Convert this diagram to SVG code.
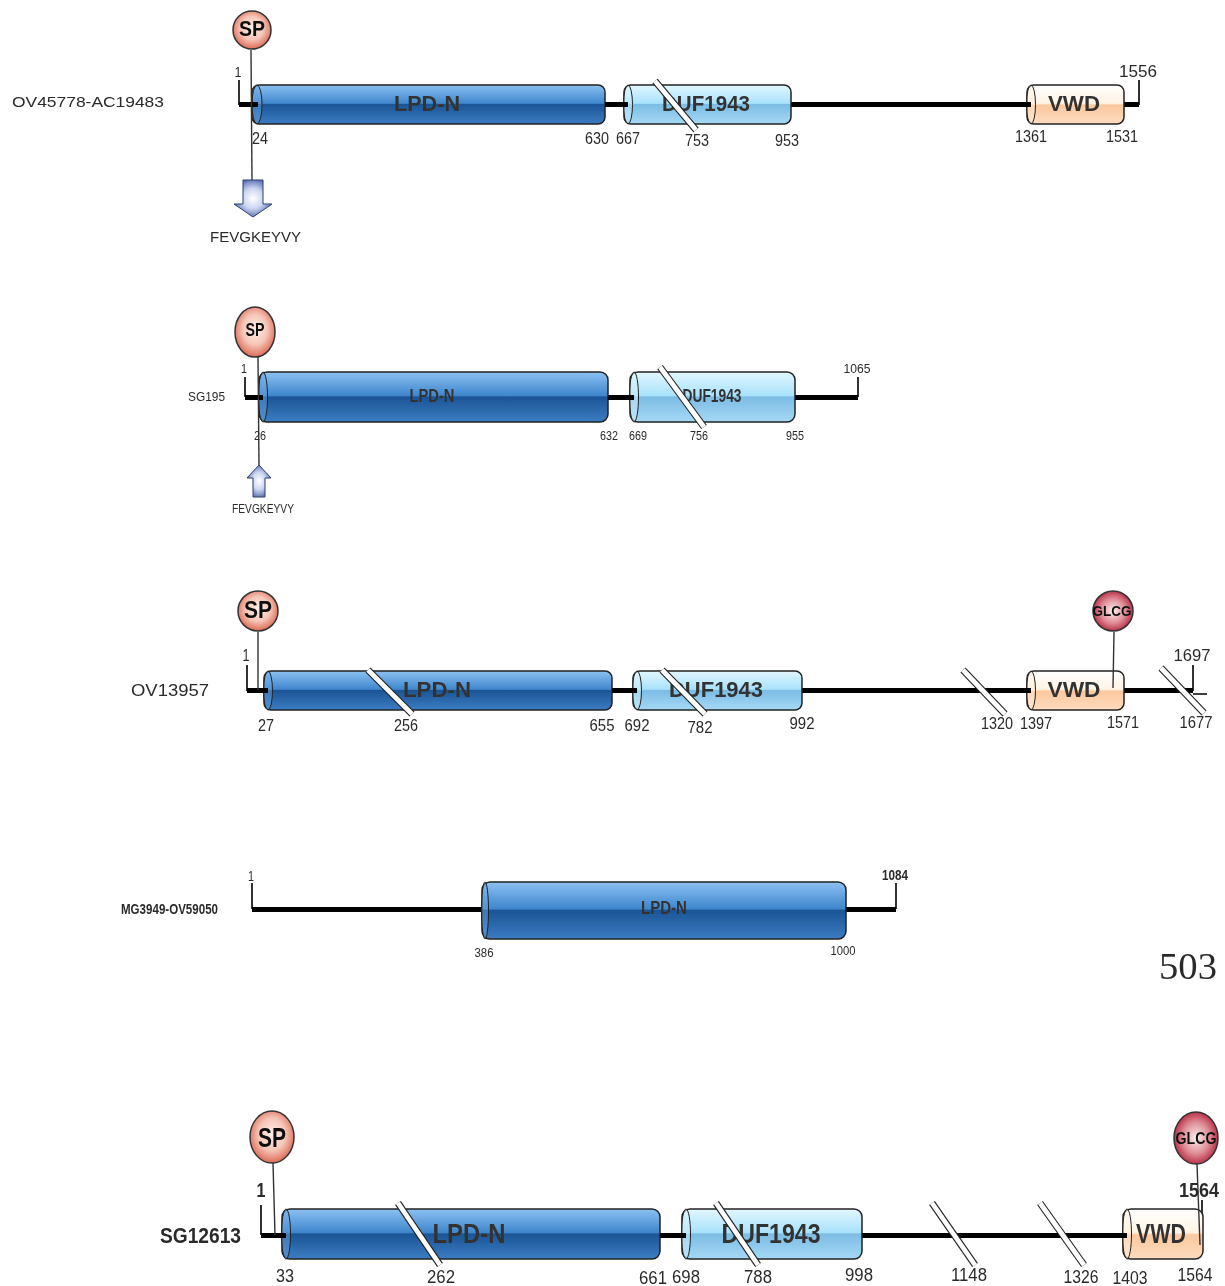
<svg xmlns="http://www.w3.org/2000/svg" width="1225" height="1286" viewBox="0 0 1225 1286">
<style>
text{font-family:"Liberation Sans",Arial,sans-serif;fill:#2b2b2b}
.bb{stroke:#000;stroke-width:5;fill:none}
.tk{stroke:#000;stroke-width:1.6;fill:none}
.st{stroke:#333;stroke-width:1.4;fill:none}
.brk{stroke:#222;stroke-width:7;fill:none}
.brw{stroke:#fff;stroke-width:4.8;fill:none}
.cyl{stroke:#222;stroke-width:1.5}
.cap{stroke:#222;stroke-width:1;fill-opacity:.45}
.blue{fill:url(#gBlue)}.cyan{fill:url(#gCyan)}.peach{fill:url(#gPeach)}
.capb{fill:#6ba7e4}.capc{fill:#d8f3ff}.capp{fill:#fff0dc}
.sp{fill:url(#gSp);stroke:#333;stroke-width:1.5}
.gl{fill:url(#gGl);stroke:#333;stroke-width:1.5}
.arr{fill:url(#gArr);stroke:#2f3f6a;stroke-width:1}
.dom{font-weight:bold;text-anchor:middle;fill:#333}
.bd{font-weight:bold;text-anchor:middle;fill:#111}
.n{text-anchor:middle}
</style>
<defs>
<filter id="soft" x="-2%" y="-2%" width="104%" height="104%"><feGaussianBlur stdDeviation="0.45"/></filter>
<linearGradient id="gBlue" x1="0" y1="0" x2="0" y2="1"><stop offset="0" stop-color="#8cc1f2"/><stop offset=".47" stop-color="#3f86cd"/><stop offset=".5" stop-color="#1b5596"/><stop offset="1" stop-color="#3c7cc2"/></linearGradient>
<linearGradient id="gCyan" x1="0" y1="0" x2="0" y2="1"><stop offset="0" stop-color="#e2f7ff"/><stop offset=".47" stop-color="#a9e2fb"/><stop offset=".5" stop-color="#7dbce4"/><stop offset="1" stop-color="#a4d9f5"/></linearGradient>
<linearGradient id="gPeach" x1="0" y1="0" x2="0" y2="1"><stop offset="0" stop-color="#ffffff"/><stop offset=".47" stop-color="#fff3e4"/><stop offset=".52" stop-color="#fcc89e"/><stop offset="1" stop-color="#fddcc0"/></linearGradient>
<radialGradient id="gSp" cx=".5" cy=".45" r=".55"><stop offset="0" stop-color="#fdf0ea"/><stop offset=".55" stop-color="#f6c6b8"/><stop offset="1" stop-color="#dc6a56"/></radialGradient>
<radialGradient id="gGl" cx=".5" cy=".5" r=".55"><stop offset="0" stop-color="#fbf0f0"/><stop offset=".55" stop-color="#de8d96"/><stop offset="1" stop-color="#b01c36"/></radialGradient>
<radialGradient id="gArr" cx=".5" cy=".5" r=".55"><stop offset="0" stop-color="#ffffff"/><stop offset=".5" stop-color="#cbd5f0"/><stop offset="1" stop-color="#4f66b0"/></radialGradient>
</defs>
<g filter="url(#soft)">
<g id="connectors">
<path class="bb" d="M239 104.500H1139"/><path class="tk" d="M239 80V105M1139 80V105"/>
<path class="bb" d="M245 397.500H858"/><path class="tk" d="M245 377V397M858 377V397"/>
<path class="bb" d="M247 690.500H1193"/><path class="tk" d="M247 665V691M1193 665V691M1193 694H1207"/>
<path class="bb" d="M252 909.500H896"/><path class="tk" d="M252 883V909M896 883V909"/>
<path class="bb" d="M261 1235.500H1125"/><path class="tk" d="M261 1205V1235M1202 1200V1235"/>
</g>
<g id="row1-domains">
<g id="r1-lpd"><rect class="cyl blue" x="252" y="85" width="353" height="39" rx="7"/><ellipse class="cap capb" cx="257" cy="104.500" rx="5" ry="19.500"/><text class="dom" x="427" y="110.500" font-size="22" textLength="66" lengthAdjust="spacingAndGlyphs">LPD-N</text></g>
<g id="r1-duf"><rect class="cyl cyan" x="624" y="85" width="167" height="39" rx="7"/><ellipse class="cap capc" cx="628" cy="104.500" rx="4.500" ry="19.500"/><text class="dom" x="706" y="110.500" font-size="22" textLength="88" lengthAdjust="spacingAndGlyphs">DUF1943</text></g>
<g id="r1-vwd"><rect class="cyl peach" x="1027" y="85" width="97" height="39" rx="7"/><ellipse class="cap capp" cx="1031" cy="104.500" rx="4.500" ry="19.500"/><text class="dom" x="1074" y="110.500" font-size="22" textLength="52" lengthAdjust="spacingAndGlyphs">VWD</text></g>
</g>
<g id="row2-domains">
<g id="r2-lpd"><rect class="cyl blue" x="259" y="372" width="349" height="50" rx="8"/><ellipse class="cap capb" cx="263" cy="397" rx="4.500" ry="25"/><text class="dom" x="432" y="401.500" font-size="18" textLength="45" lengthAdjust="spacingAndGlyphs">LPD-N</text></g>
<g id="r2-duf"><rect class="cyl cyan" x="630" y="372" width="165" height="50" rx="8"/><ellipse class="cap capc" cx="634" cy="397" rx="4.500" ry="25"/><text class="dom" x="712" y="401.500" font-size="18" textLength="59" lengthAdjust="spacingAndGlyphs">DUF1943</text></g>
</g>
<g id="row3-domains">
<g id="r3-lpd"><rect class="cyl blue" x="264" y="671" width="348" height="39" rx="7"/><ellipse class="cap capb" cx="268" cy="690.500" rx="4.500" ry="19.500"/><text class="dom" x="437" y="696.500" font-size="22" textLength="68" lengthAdjust="spacingAndGlyphs">LPD-N</text></g>
<g id="r3-duf"><rect class="cyl cyan" x="633" y="671" width="169" height="39" rx="7"/><ellipse class="cap capc" cx="637" cy="690.500" rx="4.500" ry="19.500"/><text class="dom" x="716" y="696.500" font-size="22" textLength="94" lengthAdjust="spacingAndGlyphs">DUF1943</text></g>
<g id="r3-vwd"><rect class="cyl peach" x="1027" y="671" width="97" height="39" rx="7"/><ellipse class="cap capp" cx="1031" cy="690.500" rx="4.500" ry="19.500"/><text class="dom" x="1074" y="696.500" font-size="22" textLength="53" lengthAdjust="spacingAndGlyphs">VWD</text></g>
</g>
<g id="row4-domains">
<g id="r4-lpd"><rect class="cyl blue" x="482" y="882" width="364" height="57" rx="8"/><ellipse class="cap capb" cx="485" cy="910.500" rx="3.500" ry="28.500"/><text class="dom" x="664" y="914" font-size="18" textLength="46" lengthAdjust="spacingAndGlyphs">LPD-N</text></g>
</g>
<g id="row5-domains">
<g id="r5-lpd"><rect class="cyl blue" x="282" y="1209" width="378" height="50" rx="8"/><ellipse class="cap capb" cx="286" cy="1234" rx="4.500" ry="25"/><text class="dom" x="469" y="1243" font-size="28" textLength="73" lengthAdjust="spacingAndGlyphs">LPD-N</text></g>
<g id="r5-duf"><rect class="cyl cyan" x="682" y="1209" width="180" height="50" rx="8"/><ellipse class="cap capc" cx="686" cy="1234" rx="4.500" ry="25"/><text class="dom" x="771" y="1243" font-size="28" textLength="99" lengthAdjust="spacingAndGlyphs">DUF1943</text></g>
<g id="r5-vwd"><rect class="cyl peach" x="1123" y="1209" width="80" height="50" rx="8"/><ellipse class="cap capp" cx="1127" cy="1234" rx="4.500" ry="25"/><text class="dom" x="1161" y="1243" font-size="28" textLength="50" lengthAdjust="spacingAndGlyphs">VWD</text></g>
</g>
<g id="breaks">
<path class="brk" d="M655 81L696 130"/><path class="brw" d="M655 81L696 130"/>
<path class="brk" d="M660 367L704 427"/><path class="brw" d="M660 367L704 427"/>
<path class="brk" d="M368 670L412 714"/><path class="brw" d="M368 670L412 714"/>
<path class="brk" d="M662 670L705 714"/><path class="brw" d="M662 670L705 714"/>
<path class="brk" d="M963 670L1005 714"/><path class="brw" d="M963 670L1005 714"/>
<path class="brk" d="M1161 668L1204 713"/><path class="brw" d="M1161 668L1204 713"/>
<path class="brk" d="M398 1203L440 1265"/><path class="brw" d="M398 1203L440 1265"/>
<path class="brk" d="M716 1203L758 1265"/><path class="brw" d="M716 1203L758 1265"/>
<path class="brk" d="M932 1203L975 1265"/><path class="brw" d="M932 1203L975 1265"/>
<path class="brk" d="M1040 1203L1084 1265"/><path class="brw" d="M1040 1203L1084 1265"/>
</g>
<g id="stems">
<path class="bb" d="M239 104.500H258M605 104.500H628M1020 104.500H1031"/>
<path class="bb" d="M245 397.500H263M608 397.500H634"/>
<path class="bb" d="M247 690.500H268M612 690.500H637M1020 690.500H1031"/>
<path class="bb" d="M261 1235.500H286M660 1235.500H686M1115 1235.500H1127"/>
<path class="st" d="M251 50L252 180"/>
<path class="st" d="M258 357L259 465"/>
<path class="st" d="M258 632V690"/>
<path class="st" d="M1114 632L1113 688"/>
<path class="st" d="M273 1163L275 1235"/>
<path class="st" d="M1197 1164L1200 1245"/>
</g>
<g id="sp1"><circle class="sp" cx="252" cy="30" r="19"/><text class="bd" x="252" y="36" font-size="22" textLength="26" lengthAdjust="spacingAndGlyphs">SP</text></g>
<g id="sp2"><ellipse class="sp" cx="255" cy="332" rx="20" ry="25"/><text class="bd" x="255" y="336" font-size="18" textLength="19" lengthAdjust="spacingAndGlyphs">SP</text></g>
<g id="sp3"><circle class="sp" cx="258" cy="611" r="20"/><text class="bd" x="258" y="618" font-size="23" textLength="28" lengthAdjust="spacingAndGlyphs">SP</text></g>
<g id="sp5"><ellipse class="sp" cx="272" cy="1137" rx="22" ry="26"/><text class="bd" x="272" y="1147" font-size="28" textLength="28" lengthAdjust="spacingAndGlyphs">SP</text></g>
<g id="glcg3"><circle class="gl" cx="1113" cy="611" r="20"/><text class="bd" x="1112" y="616" font-size="14" textLength="39" lengthAdjust="spacingAndGlyphs">GLCG</text></g>
<g id="glcg5"><ellipse class="gl" cx="1196" cy="1138" rx="22" ry="26"/><text class="bd" x="1196" y="1144" font-size="16" textLength="41" lengthAdjust="spacingAndGlyphs">GLCG</text></g>
<g id="arrow1"><path class="arr" d="M243 180H263V204H272L253 217L234 204H243Z"/></g>
<g id="arrow2"><path class="arr" d="M253 497V478H247L259 465L271 478H265V497Z"/></g>
<g id="labels" font-size="14">
<text x="12" y="107" font-size="15" textLength="152" lengthAdjust="spacingAndGlyphs">OV45778-AC19483</text>
<text class="n" x="238" y="77" font-size="15" textLength="7" lengthAdjust="spacingAndGlyphs">1</text><text class="n" x="260" y="144" font-size="16" textLength="16" lengthAdjust="spacingAndGlyphs">24</text>
<text class="n" x="597" y="144" font-size="16" textLength="24" lengthAdjust="spacingAndGlyphs">630</text><text class="n" x="628" y="144" font-size="16" textLength="24" lengthAdjust="spacingAndGlyphs">667</text><text class="n" x="697" y="146" font-size="16" textLength="24" lengthAdjust="spacingAndGlyphs">753</text><text class="n" x="787" y="146" font-size="16" textLength="24" lengthAdjust="spacingAndGlyphs">953</text>
<text class="n" x="1031" y="142" font-size="16" textLength="32" lengthAdjust="spacingAndGlyphs">1361</text><text class="n" x="1122" y="142" font-size="16" textLength="32" lengthAdjust="spacingAndGlyphs">1531</text><text class="n" x="1138" y="77" font-size="16" textLength="38" lengthAdjust="spacingAndGlyphs">1556</text>
<text x="210" y="242" font-size="14" textLength="91" lengthAdjust="spacingAndGlyphs">FEVGKEYVY</text>
<text x="188" y="401" font-size="13" textLength="37" lengthAdjust="spacingAndGlyphs">SG195</text>
<text class="n" x="244" y="373" font-size="13" textLength="6" lengthAdjust="spacingAndGlyphs">1</text><text class="n" x="260" y="440" font-size="13" textLength="12" lengthAdjust="spacingAndGlyphs">26</text>
<text class="n" x="609" y="440" font-size="13" textLength="18" lengthAdjust="spacingAndGlyphs">632</text><text class="n" x="638" y="440" font-size="13" textLength="18" lengthAdjust="spacingAndGlyphs">669</text><text class="n" x="699" y="440" font-size="13" textLength="18" lengthAdjust="spacingAndGlyphs">756</text><text class="n" x="795" y="440" font-size="13" textLength="18" lengthAdjust="spacingAndGlyphs">955</text>
<text class="n" x="857" y="373" font-size="13" textLength="27" lengthAdjust="spacingAndGlyphs">1065</text>
<text x="232" y="513" font-size="13" textLength="62" lengthAdjust="spacingAndGlyphs">FEVGKEYVY</text>
<text x="131" y="696" font-size="16" textLength="78" lengthAdjust="spacingAndGlyphs">OV13957</text>
<text class="n" x="246" y="661" font-size="16" textLength="7" lengthAdjust="spacingAndGlyphs">1</text><text class="n" x="266" y="731" font-size="16" textLength="16" lengthAdjust="spacingAndGlyphs">27</text><text class="n" x="406" y="731" font-size="16" textLength="24" lengthAdjust="spacingAndGlyphs">256</text><text class="n" x="602" y="731" font-size="16" textLength="25" lengthAdjust="spacingAndGlyphs">655</text><text class="n" x="637" y="731" font-size="16" textLength="25" lengthAdjust="spacingAndGlyphs">692</text><text class="n" x="700" y="733" font-size="16" textLength="25" lengthAdjust="spacingAndGlyphs">782</text><text class="n" x="802" y="729" font-size="16" textLength="25" lengthAdjust="spacingAndGlyphs">992</text><text class="n" x="997" y="729" font-size="16" textLength="32" lengthAdjust="spacingAndGlyphs">1320</text><text class="n" x="1036" y="729" font-size="16" textLength="32" lengthAdjust="spacingAndGlyphs">1397</text><text class="n" x="1123" y="728" font-size="16" textLength="32" lengthAdjust="spacingAndGlyphs">1571</text><text class="n" x="1192" y="661" font-size="16" textLength="37" lengthAdjust="spacingAndGlyphs">1697</text><text class="n" x="1196" y="728" font-size="16" textLength="33" lengthAdjust="spacingAndGlyphs">1677</text>
<text x="121" y="914" font-size="14" font-weight="bold" textLength="97" lengthAdjust="spacingAndGlyphs">MG3949-OV59050</text>
<text class="n" x="251" y="881" font-size="14" textLength="6" lengthAdjust="spacingAndGlyphs">1</text><text class="n" x="484" y="957" font-size="12" textLength="19" lengthAdjust="spacingAndGlyphs">386</text><text class="n" x="843" y="955" font-size="12" textLength="25" lengthAdjust="spacingAndGlyphs">1000</text><text class="n" x="895" y="880" font-size="14" font-weight="bold" textLength="26" lengthAdjust="spacingAndGlyphs">1084</text>
<text x="1159" y="979" font-size="38" style="font-family:'Liberation Serif','Times New Roman',serif" textLength="58" lengthAdjust="spacingAndGlyphs">503</text>
<text x="160" y="1243" font-size="22" font-weight="bold" textLength="81" lengthAdjust="spacingAndGlyphs">SG12613</text>
<text class="n" x="261" y="1197" font-size="21" font-weight="bold" textLength="9" lengthAdjust="spacingAndGlyphs">1</text><text class="n" x="285" y="1282" font-size="18" textLength="18" lengthAdjust="spacingAndGlyphs">33</text><text class="n" x="441" y="1283" font-size="18" textLength="28" lengthAdjust="spacingAndGlyphs">262</text><text class="n" x="653" y="1284" font-size="18" textLength="28" lengthAdjust="spacingAndGlyphs">661</text><text class="n" x="686" y="1283" font-size="18" textLength="28" lengthAdjust="spacingAndGlyphs">698</text><text class="n" x="758" y="1283" font-size="18" textLength="28" lengthAdjust="spacingAndGlyphs">788</text><text class="n" x="859" y="1281" font-size="18" textLength="28" lengthAdjust="spacingAndGlyphs">998</text><text class="n" x="969" y="1281" font-size="18" textLength="36" lengthAdjust="spacingAndGlyphs">1148</text><text class="n" x="1081" y="1283" font-size="18" textLength="35" lengthAdjust="spacingAndGlyphs">1326</text><text class="n" x="1130" y="1284" font-size="18" textLength="35" lengthAdjust="spacingAndGlyphs">1403</text><text class="n" x="1195" y="1281" font-size="18" textLength="35" lengthAdjust="spacingAndGlyphs">1564</text>
<text class="n" x="1199" y="1197" font-size="20" font-weight="bold" textLength="40" lengthAdjust="spacingAndGlyphs">1564</text>
</g>
</g>
</svg>
